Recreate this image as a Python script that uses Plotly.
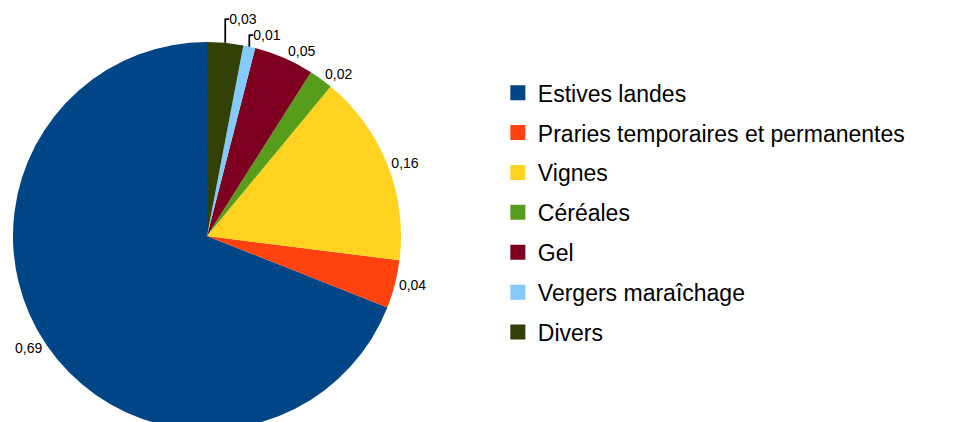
import plotly.graph_objects as go

categories = ["Estives landes", "Praries temporaires et permanentes", "Vignes",
              "Céréales", "Gel", "Vergers maraîchage", "Divers"]
values = [0.69, 0.04, 0.16, 0.02, 0.05, 0.01, 0.03]
value_labels = ["0,69", "0,04", "0,16", "0,02", "0,05", "0,01", "0,03"]
colors = ["#004586", "#ff420e", "#ffd320", "#579d1c", "#7e0021", "#83caff", "#314004"]

FONT = "Liberation Sans, Arial, sans-serif"
start_rotation = 360 * (1 - values[0] / sum(values))

fig = go.Figure()
fig.add_trace(go.Pie(
    labels=categories,
    values=values,
    text=value_labels,
    textinfo="text",
    textposition="outside",
    textfont=dict(family=FONT, size=14, color="#000000"),
    marker=dict(colors=colors, line=dict(width=0)),
    sort=False,
    direction="counterclockwise",
    rotation=start_rotation,
    hole=0,
    automargin=False,
    domain=dict(x=[0.0052, 0.4124], y=[0, 1]),
    showlegend=False,
    hoverinfo="label+value",
))

# legend entries (one group per category so spacing can be controlled)
for name, col in zip(categories, colors):
    fig.add_trace(go.Scatter(
        x=[None], y=[None], mode="markers", name=name, legendgroup=name,
        marker=dict(symbol="square", size=15, color=col),
        showlegend=True, hoverinfo="skip",
    ))

fig.update_layout(
    width=953,
    height=422,
    margin=dict(l=0, r=0, t=34, b=0, autoexpand=False),
    paper_bgcolor="white",
    plot_bgcolor="white",
    font=dict(family=FONT, color="#000000"),
    xaxis=dict(visible=False),
    yaxis=dict(visible=False),
    legend=dict(
        x=0.514, y=0.56, xanchor="left", yanchor="middle",
        font=dict(size=23, family=FONT, color="#000000"),
        traceorder="grouped",
        tracegroupgap=7,
        itemclick=False,
        itemdoubleclick=False,
        bgcolor="rgba(0,0,0,0)",
    ),
)

fig.write_html("out.html")
